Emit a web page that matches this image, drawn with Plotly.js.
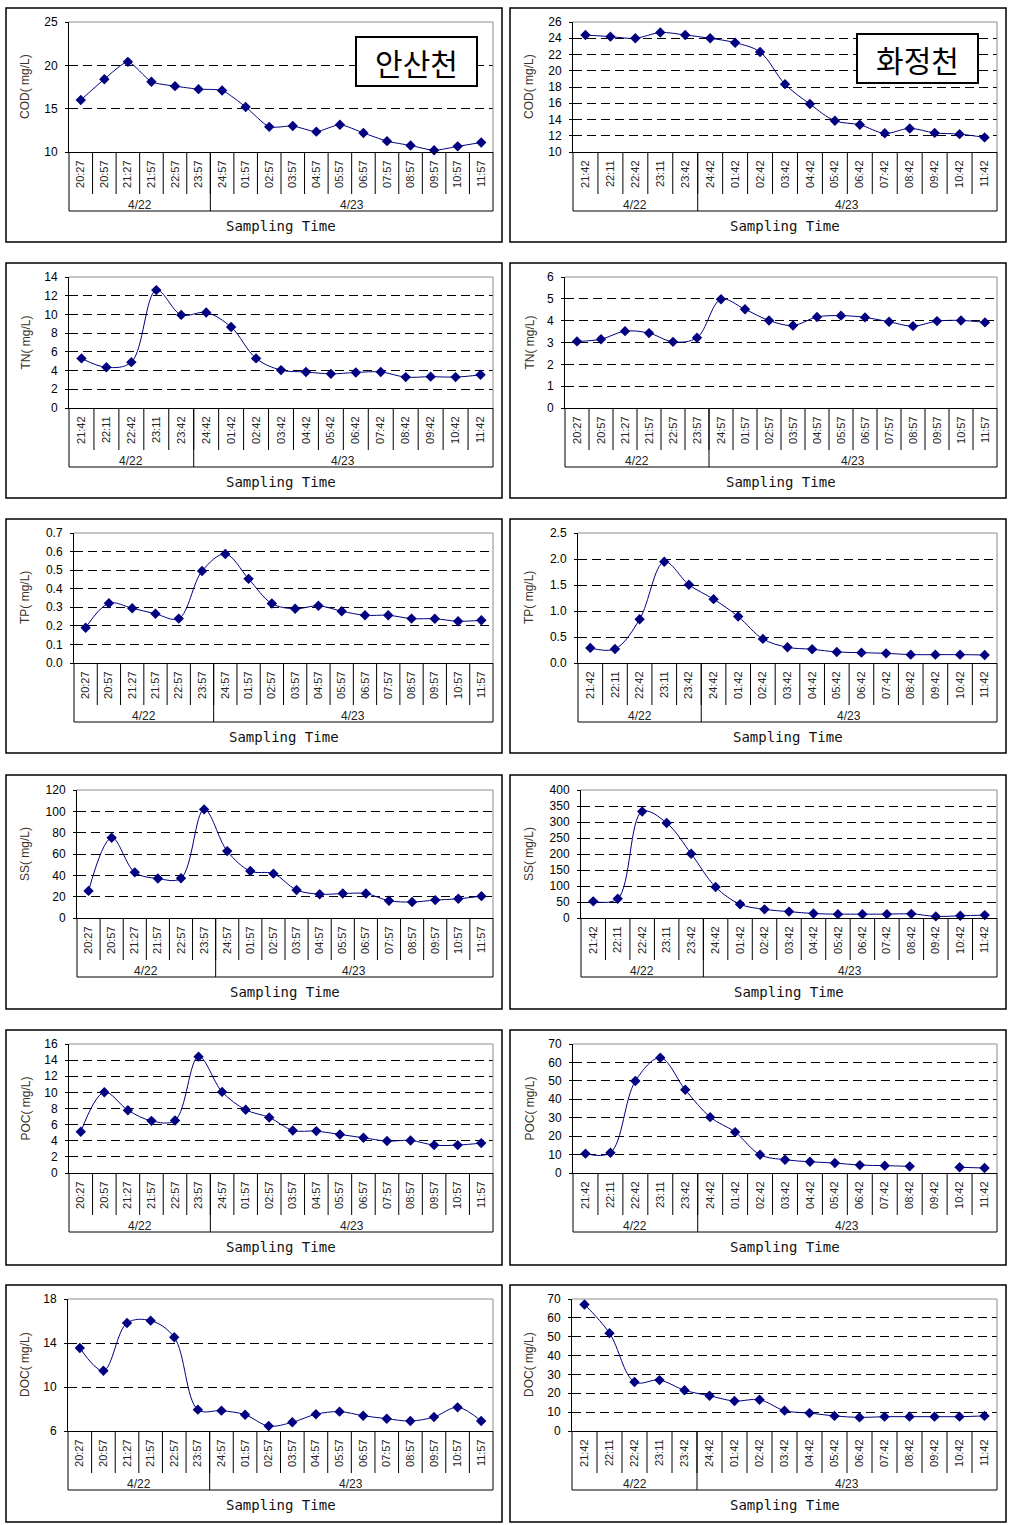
<!DOCTYPE html>
<html>
<head>
<meta charset="utf-8">
<script src="https://cdn.plot.ly/plotly-3.0.1.min.js"></script>
<style>
html,body{margin:0;padding:0;background:#fff;}
#chart{width:1017px;height:1525px;}
</style>
</head>
<body>
<div id="chart"></div>
<script>
// ---------- categories ----------
const timesA = ['20:27','20:57','21:27','21:57','22:57','23:57','24:57','01:57','02:57','03:57','04:57','05:57','06:57','07:57','08:57','09:57','10:57','11:57'];
const timesB = ['21:42','22:11','22:42','23:11','23:42','24:42','01:42','02:42','03:42','04:42','05:42','06:42','07:42','08:42','09:42','10:42','11:42'];
const dateLabels = ['4/22','4/23'];
const groupSizesA = [6, 12];
const groupSizesB = [5, 12];
const siteLabels = ['안산천', '화정천'];
const xTitle = 'Sampling Time';

// ---------- series values (mg/L) ----------
const codAnsan    = [16.0,18.4,20.4,18.1,17.6,17.25,17.1,15.2,12.9,13.0,12.35,13.15,12.2,11.25,10.75,10.2,10.65,11.1];
const codHwajeong = [24.4,24.2,24.0,24.7,24.4,24.0,23.45,22.3,18.35,15.9,13.85,13.35,12.3,12.9,12.35,12.2,11.8];
const tnLeft      = [5.3,4.35,4.9,12.6,9.95,10.2,8.65,5.3,4.05,3.85,3.65,3.8,3.85,3.3,3.35,3.3,3.55];
const tnRight     = [3.05,3.15,3.52,3.43,3.03,3.22,4.98,4.52,4.01,3.78,4.17,4.23,4.15,3.95,3.75,3.98,4.01,3.92];
const tpAnsan     = [0.19,0.322,0.295,0.265,0.239,0.495,0.587,0.453,0.32,0.292,0.308,0.279,0.257,0.257,0.239,0.238,0.225,0.23];
const tpHwajeong  = [0.29,0.27,0.84,1.947,1.504,1.228,0.893,0.463,0.302,0.264,0.212,0.199,0.186,0.161,0.161,0.161,0.154];
const ssAnsan     = [25.4,75.2,42.8,37.0,37.3,101.8,62.7,44.0,41.6,26.3,22.3,22.9,22.9,16.2,15.0,16.8,18.0,20.5];
const ssHwajeong  = [52,60,333,297,201,97,43,27,20,14,12,12,12,13,5,7,9];
const pocAnsan    = [5.11,10.02,7.79,6.47,6.52,14.43,10.06,7.84,6.89,5.28,5.2,4.78,4.37,3.96,4.04,3.46,3.46,3.71];
const pocHwajeong = [10.5,11.0,49.9,62.5,45.2,30.3,22.2,9.9,7.2,6.1,5.4,4.3,4.0,3.6,null,3.1,2.7];
const docAnsan    = [13.55,11.48,15.82,16.03,14.52,7.94,7.85,7.48,6.45,6.79,7.52,7.76,7.39,7.12,6.91,7.27,8.15,6.91];
const docHwajeong = [67.1,51.9,26.0,27.0,21.6,18.7,15.9,16.6,10.8,9.5,8.0,7.2,7.6,7.6,7.6,7.6,8.0];

// ---------- panel list (data + axis ranges) ----------
const panels = [
  {x: timesA, y: codAnsan,    g: groupSizesA, yr: [10,25],  dt: 5,   fmt: '',    yt: 'COD( mg/L)', site: 0, sm: 0.6},
  {x: timesB, y: codHwajeong, g: groupSizesB, yr: [10,26],  dt: 2,   fmt: '',    yt: 'COD( mg/L)', site: 1, sm: 1},
  {x: timesB, y: tnLeft,      g: groupSizesB, yr: [0,14],   dt: 2,   fmt: '',    yt: 'TN( mg/L)',  sm: 1},
  {x: timesA, y: tnRight,     g: groupSizesA, yr: [0,6],    dt: 1,   fmt: '',    yt: 'TN( mg/L)',  sm: 1},
  {x: timesA, y: tpAnsan,     g: groupSizesA, yr: [0,0.7],  dt: 0.1, fmt: '.1f', yt: 'TP( mg/L)',  sm: 1},
  {x: timesB, y: tpHwajeong,  g: groupSizesB, yr: [0,2.5],  dt: 0.5, fmt: '.1f', yt: 'TP( mg/L)',  sm: 1},
  {x: timesA, y: ssAnsan,     g: groupSizesA, yr: [0,120],  dt: 20,  fmt: '',    yt: 'SS( mg/L)',  sm: 1},
  {x: timesB, y: ssHwajeong,  g: groupSizesB, yr: [0,400],  dt: 50,  fmt: '',    yt: 'SS( mg/L)',  sm: 1},
  {x: timesA, y: pocAnsan,    g: groupSizesA, yr: [0,16],   dt: 2,   fmt: '',    yt: 'POC( mg/L)', sm: 1},
  {x: timesB, y: pocHwajeong, g: groupSizesB, yr: [0,70],   dt: 10,  fmt: '',    yt: 'POC( mg/L)', sm: 1},
  {x: timesA, y: docAnsan,    g: groupSizesA, yr: [6,18],   dt: 4,   fmt: '',    yt: 'DOC( mg/L)', sm: 1},
  {x: timesB, y: docHwajeong, g: groupSizesB, yr: [0,70],   dt: 10,  fmt: '',    yt: 'DOC( mg/L)', sm: 1}
];

// ---------- layout geometry (pixels) ----------
const W = 1017, H = 1525;
const plotLeft = [69,573,69,565,74,578,77,581,69,573,68,572];
const plotRight = [493,997];
const rowTop = [22,277,533,790,1044,1299];
const rowBot = [152,408,663,918,1173,1431];
const frameX = [[6,502],[510,1006]];
const frameY = [[8,242],[263,498],[519,753],[775,1009],[1030,1265],[1285,1522]];
const siteBox = [[416.5,61.5],[917.5,59]];

const px = v => v / W;
const py = v => 1 - v / H;

const FONT = 'Liberation Sans, Arial, sans-serif';
const NAVY = '#000080';

const traces = [];
const shapes = [];
const annotations = [];
const layout = {
  width: W, height: H,
  margin: {l:0, r:0, t:0, b:0},
  paper_bgcolor: '#ffffff',
  plot_bgcolor: '#ffffff',
  showlegend: false,
  font: {family: FONT, color: '#000'}
};

panels.forEach((p, i) => {
  const k = i + 1;
  const col = i % 2, row = Math.floor(i / 2);
  const L = plotLeft[i], R = plotRight[col], T = rowTop[row], B = rowBot[row];
  const n = p.x.length;
  const xa = 'x' + k, ya = 'y' + k;
  const xName = 'xaxis' + (k === 1 ? '' : k), yName = 'yaxis' + (k === 1 ? '' : k);

  traces.push({
    type: 'scatter', mode: 'lines+markers',
    x: p.x, y: p.y, xaxis: xa, yaxis: ya,
    connectgaps: false, cliponaxis: false,
    line: {color: NAVY, width: 1, shape: 'spline', smoothing: p.sm},
    marker: {symbol: 'diamond', size: 8, color: NAVY},
    hoverinfo: 'x+y'
  });

  layout[xName] = {
    domain: [px(L), px(R)], anchor: ya, type: 'category',
    categoryorder: 'array', categoryarray: p.x,
    range: [-0.5, n - 0.5], showgrid: false, zeroline: false,
    showline: true, linecolor: '#000', linewidth: 1,
    ticks: '', tickangle: -90, ticklabelstandoff: 3,
    tickfont: {family: FONT, size: 11, color: '#222'},
    fixedrange: true
  };
  layout[yName] = {
    domain: [py(B), py(T)], anchor: xa,
    range: p.yr, tick0: p.yr[0], dtick: p.dt, tickformat: p.fmt,
    showgrid: true, gridcolor: '#000', gridwidth: 1, griddash: '9px,5px',
    zeroline: false, showline: true, linecolor: '#000', linewidth: 1,
    ticks: 'outside', ticklen: 3, tickcolor: '#000', ticklabelstandoff: 5,
    tickfont: {family: FONT, size: 12, color: '#000'},
    fixedrange: true
  };

  // grey plot border (top + right)
  shapes.push({type: 'path', xref: 'paper', yref: 'paper', layer: 'above',
    path: `M ${px(L)} ${py(T)} L ${px(R)} ${py(T)} L ${px(R)} ${py(B)}`,
    line: {color: '#8c8c8c', width: 1}});

  // separators between categories
  for (let j = 1; j < n; j++) {
    shapes.push({type: 'line', xref: xa, yref: 'paper', x0: j - 0.5, x1: j - 0.5,
      y0: py(B), y1: py(B + 42), line: {color: '#000', width: 1}});
  }
  // group boundary
  const gb = p.g[0] - 0.5;
  shapes.push({type: 'line', xref: xa, yref: 'paper', x0: gb, x1: gb,
    y0: py(B), y1: py(B + 59), line: {color: '#000', width: 1}});
  // edges
  [L, R].forEach(ex => shapes.push({type: 'line', xref: 'paper', yref: 'paper',
    x0: px(ex), x1: px(ex), y0: py(B), y1: py(B + 59), line: {color: '#000', width: 1}}));
  // bottom line of group box
  shapes.push({type: 'line', xref: 'paper', yref: 'paper',
    x0: px(L), x1: px(R), y0: py(B + 59), y1: py(B + 59), line: {color: '#000', width: 1}});

  // panel frame
  shapes.push({type: 'rect', xref: 'paper', yref: 'paper',
    x0: px(frameX[col][0]), x1: px(frameX[col][1]),
    y0: py(frameY[row][0]), y1: py(frameY[row][1]),
    line: {color: '#000', width: 1.5}});

  // date group labels
  let start = 0;
  p.g.forEach((sz, gi) => {
    annotations.push({xref: xa, yref: 'paper', x: start + (sz - 1) / 2, y: py(B + 53),
      text: dateLabels[gi], showarrow: false, xanchor: 'center', yanchor: 'middle',
      font: {family: FONT, size: 12, color: '#222'}});
    start += sz;
  });

  // y axis title
  annotations.push({xref: 'paper', yref: 'paper', x: px(frameX[col][0] + 19), y: py((T + B) / 2),
    text: p.yt, textangle: -90, showarrow: false, xanchor: 'center', yanchor: 'middle',
    font: {family: FONT, size: 12, color: '#3a3226'}});

  // x axis title
  annotations.push({xref: 'paper', yref: 'paper', x: px((L + R) / 2), y: py(B + 74),
    text: xTitle, showarrow: false, xanchor: 'center', yanchor: 'middle',
    font: {family: 'DejaVu Sans Mono, Liberation Mono, monospace', size: 14, color: '#111'}});

  // site label box
  if (p.site !== undefined) {
    const c = siteBox[p.site];
    annotations.push({xref: 'paper', yref: 'paper', x: px(c[0]), y: py(c[1]),
      text: siteLabels[p.site], showarrow: false, xanchor: 'center', yanchor: 'middle',
      width: 117, height: 45, borderpad: 1, borderwidth: 2, bordercolor: '#000', bgcolor: '#fff',
      font: {family: 'Noto Sans CJK KR, sans-serif', size: 30, color: '#000'}});
  }
});

layout.shapes = shapes;
layout.annotations = annotations;

Plotly.newPlot('chart', traces, layout, {staticPlot: true, displayModeBar: false});
</script>
</body>
</html>
